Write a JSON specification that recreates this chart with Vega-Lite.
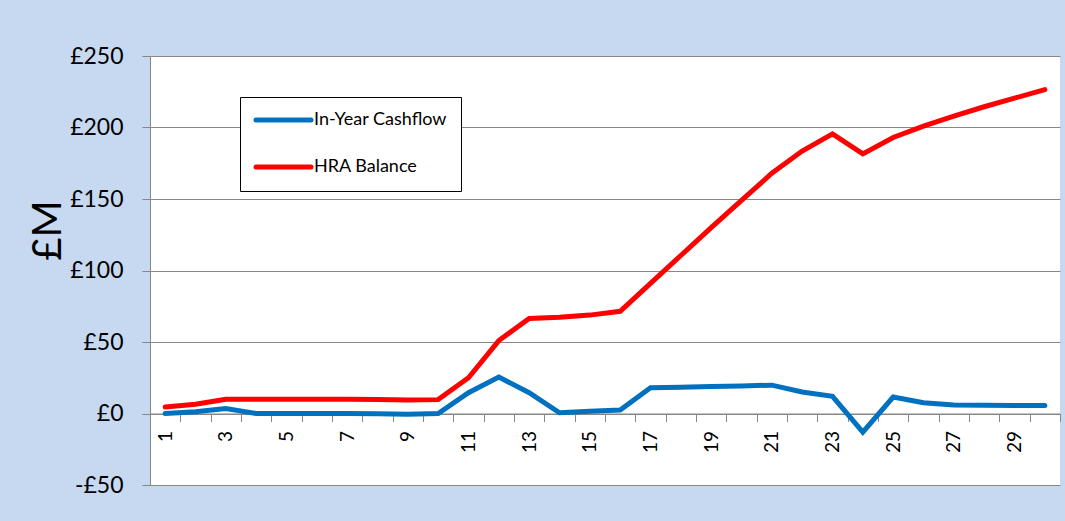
{
  "$schema": "https://vega.github.io/schema/vega-lite/v6.json",
  "width": 910,
  "height": 429,
  "autosize": {"type": "none"},
  "padding": {"left": 150, "top": 56, "right": 5, "bottom": 36},
  "background": "#C6D9F1",
  "config": {
    "view": {"stroke": null, "fill": "#FFFFFF"},
    "font": "Lato"
  },
  "data": {
    "values": [
      {"year": 1, "series": "In-Year Cashflow", "value": 0},
      {"year": 2, "series": "In-Year Cashflow", "value": 1.2},
      {"year": 3, "series": "In-Year Cashflow", "value": 3.5},
      {"year": 4, "series": "In-Year Cashflow", "value": 0},
      {"year": 5, "series": "In-Year Cashflow", "value": 0},
      {"year": 6, "series": "In-Year Cashflow", "value": 0},
      {"year": 7, "series": "In-Year Cashflow", "value": 0},
      {"year": 8, "series": "In-Year Cashflow", "value": -0.2},
      {"year": 9, "series": "In-Year Cashflow", "value": -0.5},
      {"year": 10, "series": "In-Year Cashflow", "value": 0},
      {"year": 11, "series": "In-Year Cashflow", "value": 14.5},
      {"year": 12, "series": "In-Year Cashflow", "value": 25.5},
      {"year": 13, "series": "In-Year Cashflow", "value": 14.5},
      {"year": 14, "series": "In-Year Cashflow", "value": 0.5},
      {"year": 15, "series": "In-Year Cashflow", "value": 1.5},
      {"year": 16, "series": "In-Year Cashflow", "value": 2.5},
      {"year": 17, "series": "In-Year Cashflow", "value": 18},
      {"year": 18, "series": "In-Year Cashflow", "value": 18.3},
      {"year": 19, "series": "In-Year Cashflow", "value": 18.8},
      {"year": 20, "series": "In-Year Cashflow", "value": 19.3},
      {"year": 21, "series": "In-Year Cashflow", "value": 19.8},
      {"year": 22, "series": "In-Year Cashflow", "value": 15},
      {"year": 23, "series": "In-Year Cashflow", "value": 12},
      {"year": 24, "series": "In-Year Cashflow", "value": -13},
      {"year": 25, "series": "In-Year Cashflow", "value": 11.5},
      {"year": 26, "series": "In-Year Cashflow", "value": 7.5},
      {"year": 27, "series": "In-Year Cashflow", "value": 6},
      {"year": 28, "series": "In-Year Cashflow", "value": 5.8},
      {"year": 29, "series": "In-Year Cashflow", "value": 5.6},
      {"year": 30, "series": "In-Year Cashflow", "value": 5.6},
      {"year": 1, "series": "HRA Balance", "value": 4.5},
      {"year": 2, "series": "HRA Balance", "value": 6.5},
      {"year": 3, "series": "HRA Balance", "value": 10},
      {"year": 4, "series": "HRA Balance", "value": 10},
      {"year": 5, "series": "HRA Balance", "value": 10},
      {"year": 6, "series": "HRA Balance", "value": 10},
      {"year": 7, "series": "HRA Balance", "value": 10},
      {"year": 8, "series": "HRA Balance", "value": 9.8},
      {"year": 9, "series": "HRA Balance", "value": 9.5},
      {"year": 10, "series": "HRA Balance", "value": 9.7},
      {"year": 11, "series": "HRA Balance", "value": 25},
      {"year": 12, "series": "HRA Balance", "value": 51},
      {"year": 13, "series": "HRA Balance", "value": 66.5},
      {"year": 14, "series": "HRA Balance", "value": 67.3},
      {"year": 15, "series": "HRA Balance", "value": 68.8},
      {"year": 16, "series": "HRA Balance", "value": 71.5},
      {"year": 17, "series": "HRA Balance", "value": 91},
      {"year": 18, "series": "HRA Balance", "value": 110.5},
      {"year": 19, "series": "HRA Balance", "value": 130},
      {"year": 20, "series": "HRA Balance", "value": 149},
      {"year": 21, "series": "HRA Balance", "value": 168},
      {"year": 22, "series": "HRA Balance", "value": 183.5},
      {"year": 23, "series": "HRA Balance", "value": 195.5},
      {"year": 24, "series": "HRA Balance", "value": 181.5},
      {"year": 25, "series": "HRA Balance", "value": 193},
      {"year": 26, "series": "HRA Balance", "value": 201},
      {"year": 27, "series": "HRA Balance", "value": 208},
      {"year": 28, "series": "HRA Balance", "value": 214.5},
      {"year": 29, "series": "HRA Balance", "value": 220.5},
      {"year": 30, "series": "HRA Balance", "value": 226.5}
    ]
  },
  "mark": {"type": "line", "strokeWidth": 5, "strokeCap": "round", "clip": false},
  "encoding": {
    "x": {
      "field": "year",
      "type": "ordinal",
      "bandPosition": 0.5,
      "sort": "ascending",
      "scale": {"type": "band", "paddingInner": 0, "paddingOuter": 0},
      "axis": {
        "title": null,
        "offset": -71.5,
        "tickBand": "extent",
        "domainColor": "#878787",
        "tickColor": "#878787",
        "tickSize": 8,
        "labelAngle": -90,
        "labelAlign": "right",
        "labelBaseline": "middle",
        "labelPadding": 9,
        "labelFont": "Lato",
        "labelFontSize": 19,
        "labelColor": "#000000",
        "labelOverlap": false,
        "labelExpr": "datum.value % 2 == 1 ? datum.label : ''",
        "grid": false,
        "zindex": 0
      }
    },
    "y": {
      "field": "value",
      "type": "quantitative",
      "scale": {"domain": [-50, 250], "nice": false, "zero": false},
      "axis": {
        "title": "£M",
        "titleFont": "Lato",
        "titleFontSize": 40,
        "titleFontWeight": "normal",
        "titleColor": "#000000",
        "titleAngle": -90,
        "titleBaseline": "alphabetic",
        "titleAlign": "center",
        "titleX": -90,
        "titleY": 174,
        "values": [-50, 0, 50, 100, 150, 200, 250],
        "grid": true,
        "gridColor": "#878787",
        "gridWidth": 1,
        "domainColor": "#878787",
        "tickColor": "#878787",
        "tickSize": 8,
        "labelPadding": 19,
        "labelFont": "Lato",
        "labelFontSize": 23,
        "labelColor": "#000000",
        "labelExpr": "datum.value < 0 ? '-£' + abs(datum.value) : '£' + datum.value",
        "zindex": 0
      }
    },
    "color": {
      "field": "series",
      "type": "nominal",
      "scale": {"domain": ["In-Year Cashflow", "HRA Balance"], "range": ["#0070C0", "#FF0000"]},
      "legend": {
        "title": null,
        "orient": "none",
        "legendX": 90,
        "legendY": 41,
        "direction": "vertical",
        "fillColor": "#FFFFFF",
        "strokeColor": "#000000",
        "padding": 14,
        "symbolType": "M-1.4,0L9.6,0",
        "symbolSize": 100,
        "symbolStrokeWidth": 5,
        "labelFont": "Lato",
        "labelFontSize": 18,
        "labelColor": "#000000",
        "labelOffset": 42,
        "rowPadding": 27,
        "encode": {"symbols": {"update": {"strokeCap": {"value": "round"}}}}
      }
    }
  }
}
